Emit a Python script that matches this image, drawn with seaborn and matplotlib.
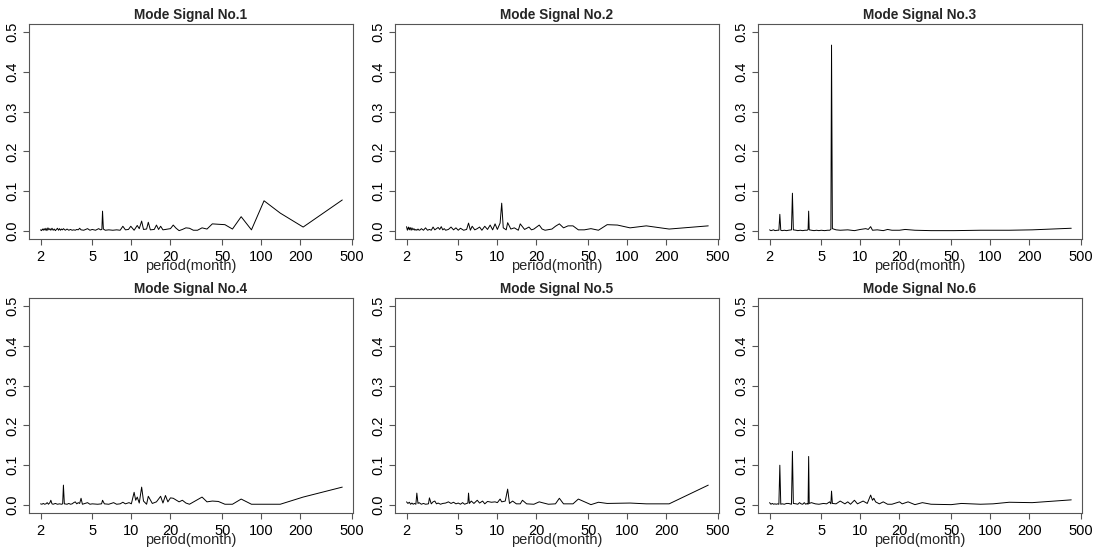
import matplotlib
matplotlib.use("Agg")
import matplotlib.pyplot as plt
import seaborn as sns

# periodogram values, one pair of lists per mode signal
period_1 = [2.0, 2.03, 2.07, 2.1, 2.13, 2.17, 2.2, 2.24, 2.28, 2.32, 2.36, 2.4, 2.45, 2.5, 2.55, 2.6,
            2.65, 2.7, 2.75, 2.8, 2.85, 2.9, 2.95, 3.0, 3.1, 3.2, 3.3, 3.4, 3.5, 3.6, 3.7, 3.8, 3.9,
            4.0, 4.1, 4.3, 4.6, 4.8, 5.0, 5.3, 5.6, 5.8, 5.93, 6.0, 6.09, 6.3, 6.7, 7.2, 7.7, 8.2, 8.6,
            9.0, 9.5, 9.9, 10.5, 11.1, 11.5, 12.0, 12.4, 13.1, 13.5, 14.0, 15.0, 15.6, 16.2, 16.8,
            17.5, 18.3, 19.1, 20.0, 21.0, 22.1, 23.3, 24.7, 26.3, 28.0, 30.0, 32.3, 35.0, 38.2, 42.0,
            46.7, 52.5, 60.0, 70.0, 84.0, 105.0, 140.0, 210.0, 420.0]
value_1 = [0.003, 0.001, 0.005, 0.002, 0.006, 0.002, 0.007, 0.001, 0.008, 0.003, 0.006, 0.002, 0.007,
           0.002, 0.005, 0.001, 0.004, 0.007, 0.002, 0.006, 0.002, 0.005, 0.003, 0.006, 0.002, 0.005,
           0.002, 0.004, 0.002, 0.003, 0.002, 0.004, 0.003, 0.007, 0.003, 0.002, 0.006, 0.002, 0.004,
           0.002, 0.006, 0.003, 0.004, 0.050, 0.005, 0.002, 0.003, 0.002, 0.003, 0.002, 0.012, 0.003,
           0.004, 0.012, 0.002, 0.014, 0.006, 0.025, 0.004, 0.005, 0.022, 0.003, 0.004, 0.015, 0.004,
           0.012, 0.003, 0.004, 0.005, 0.006, 0.015, 0.007, 0.001, 0.004, 0.008, 0.007, 0.002, 0.002,
           0.008, 0.005, 0.018, 0.017, 0.016, 0.005, 0.036, 0.003, 0.076, 0.045, 0.010, 0.078]

period_2 = [2.0, 2.03, 2.07, 2.1, 2.13, 2.17, 2.2, 2.24, 2.28, 2.32, 2.36, 2.4, 2.45, 2.5, 2.55, 2.6,
            2.7, 2.8, 2.9, 3.0, 3.1, 3.2, 3.3, 3.4, 3.5, 3.6, 3.7, 3.8, 3.9, 4.0, 4.2, 4.4, 4.6, 4.8,
            5.0, 5.2, 5.5, 5.8, 6.0, 6.2, 6.4, 6.7, 7.0, 7.3, 7.6, 8.0, 8.4, 8.8, 9.2, 9.6, 10.0,
            10.5, 10.8, 11.1, 11.7, 12.0, 12.7, 13.5, 14.5, 15.0, 16.2, 17.5, 18.3, 19.1, 21.0, 22.1,
            23.3, 26.3, 28.0, 30.0, 32.3, 35.0, 38.2, 42.0, 46.7, 52.5, 60.0, 70.0, 84.0, 105.0,
            140.0, 210.0, 420.0]
value_2 = [0.011, 0.002, 0.010, 0.003, 0.009, 0.002, 0.008, 0.003, 0.006, 0.002, 0.004, 0.002, 0.005,
           0.002, 0.003, 0.006, 0.002, 0.008, 0.002, 0.004, 0.002, 0.010, 0.003, 0.006, 0.009, 0.004,
           0.011, 0.003, 0.006, 0.002, 0.004, 0.010, 0.003, 0.008, 0.002, 0.007, 0.002, 0.004, 0.020,
           0.002, 0.012, 0.003, 0.006, 0.010, 0.002, 0.012, 0.004, 0.015, 0.003, 0.018, 0.004, 0.020,
           0.070, 0.008, 0.003, 0.021, 0.005, 0.008, 0.002, 0.018, 0.004, 0.010, 0.003, 0.005, 0.015,
           0.005, 0.002, 0.005, 0.012, 0.018, 0.008, 0.013, 0.013, 0.003, 0.003, 0.006, 0.002, 0.016,
           0.015, 0.008, 0.013, 0.005, 0.013]

period_3 = [2.0, 2.05, 2.1, 2.15, 2.2, 2.3, 2.36, 2.40, 2.44, 2.5, 2.6, 2.7, 2.8, 2.95, 3.0, 3.05,
            3.2, 3.3, 3.45, 3.6, 3.75, 3.9, 3.96, 4.0, 4.04, 4.2, 4.4, 4.6, 4.8, 5.0, 5.3, 5.6, 5.8,
            5.93, 6.0, 6.09, 6.5, 7.0, 8.0, 9.0, 10.0, 11.0, 11.5, 12.0, 12.4, 13.5, 15.0, 16.2, 17.5,
            20.0, 22.1, 26.3, 35.0, 52.5, 84.0, 140.0, 210.0, 420.0]
value_3 = [0.003, 0.001, 0.002, 0.003, 0.001, 0.002, 0.002, 0.042, 0.002, 0.001, 0.002, 0.001, 0.002,
           0.003, 0.095, 0.003, 0.002, 0.001, 0.002, 0.001, 0.002, 0.002, 0.004, 0.050, 0.003, 0.002,
           0.001, 0.002, 0.001, 0.002, 0.001, 0.002, 0.002, 0.004, 0.467, 0.006, 0.003, 0.002, 0.003,
           0.001, 0.004, 0.006, 0.004, 0.011, 0.002, 0.003, 0.001, 0.004, 0.002, 0.002, 0.004, 0.002,
           0.001, 0.001, 0.002, 0.002, 0.003, 0.007]

period_4 = [2.0, 2.05, 2.1, 2.15, 2.2, 2.25, 2.3, 2.36, 2.4, 2.45, 2.5, 2.6, 2.7, 2.8, 2.9, 2.96, 3.0,
            3.05, 3.2, 3.3, 3.4, 3.5, 3.6, 3.7, 3.8, 3.9, 4.0, 4.1, 4.2, 4.4, 4.6, 4.8, 5.0, 5.5, 5.9,
            6.0, 6.2, 6.7, 7.3, 7.7, 8.2, 8.6, 9.0, 9.6, 10.0, 10.5, 10.8, 11.1, 11.5, 12.0, 12.4,
            13.1, 13.5, 14.5, 15.6, 16.8, 17.5, 18.3, 19.1, 20.0, 21.0, 23.3, 24.7, 26.3, 28.0, 35.0,
            38.2, 42.0, 46.7, 52.5, 60.0, 70.0, 84.0, 105.0, 140.0, 210.0, 420.0]
value_4 = [0.003, 0.002, 0.004, 0.002, 0.003, 0.006, 0.002, 0.006, 0.012, 0.003, 0.002, 0.004, 0.002,
           0.003, 0.002, 0.003, 0.050, 0.003, 0.002, 0.004, 0.002, 0.003, 0.006, 0.008, 0.003, 0.006,
           0.004, 0.017, 0.002, 0.004, 0.006, 0.002, 0.003, 0.002, 0.003, 0.012, 0.003, 0.002, 0.006,
           0.002, 0.003, 0.007, 0.003, 0.006, 0.003, 0.032, 0.012, 0.020, 0.005, 0.045, 0.010, 0.002,
           0.022, 0.004, 0.008, 0.022, 0.005, 0.024, 0.008, 0.018, 0.017, 0.008, 0.012, 0.005, 0.002,
           0.020, 0.008, 0.010, 0.009, 0.002, 0.002, 0.015, 0.002, 0.002, 0.002, 0.020, 0.045]

period_5 = [2.0, 2.05, 2.1, 2.15, 2.2, 2.25, 2.3, 2.36, 2.4, 2.45, 2.5, 2.6, 2.7, 2.8, 2.95, 3.0,
            3.1, 3.2, 3.3, 3.4, 3.5, 3.65, 3.8, 4.0, 4.2, 4.4, 4.6, 4.8, 5.0, 5.2, 5.4, 5.6, 5.8,
            5.93, 6.0, 6.09, 6.3, 6.6, 7.0, 7.3, 7.7, 8.0, 8.4, 9.0, 9.6, 10.0, 10.5, 10.8, 11.5,
            12.0, 12.4, 13.1, 14.0, 15.0, 15.6, 16.8, 19.1, 21.0, 22.1, 24.7, 28.0, 30.0, 32.3, 38.2,
            42.0, 52.5, 60.0, 70.0, 105.0, 140.0, 210.0, 420.0]
value_5 = [0.008, 0.004, 0.007, 0.002, 0.005, 0.002, 0.004, 0.002, 0.030, 0.004, 0.006, 0.002, 0.004,
           0.002, 0.003, 0.018, 0.003, 0.008, 0.010, 0.003, 0.005, 0.002, 0.004, 0.005, 0.008, 0.004,
           0.007, 0.003, 0.005, 0.002, 0.006, 0.002, 0.004, 0.005, 0.030, 0.004, 0.010, 0.004, 0.012,
           0.005, 0.010, 0.003, 0.009, 0.007, 0.008, 0.006, 0.015, 0.008, 0.010, 0.040, 0.004, 0.010,
           0.003, 0.003, 0.012, 0.003, 0.002, 0.008, 0.006, 0.002, 0.003, 0.017, 0.003, 0.003, 0.015,
           0.001, 0.007, 0.004, 0.005, 0.003, 0.003, 0.050]

period_6 = [2.0, 2.05, 2.1, 2.15, 2.2, 2.25, 2.3, 2.36, 2.4, 2.44, 2.5, 2.6, 2.7, 2.8, 2.95, 3.0,
            3.05, 3.2, 3.3, 3.4, 3.5, 3.6, 3.7, 3.8, 3.9, 3.96, 4.0, 4.04, 4.2, 4.5, 4.8, 5.2, 5.5,
            5.8, 5.93, 6.0, 6.09, 6.5, 7.0, 7.6, 8.0, 8.4, 9.0, 9.5, 10.5, 11.3, 12.0, 12.4, 12.7,
            13.1, 14.0, 15.0, 16.2, 17.5, 20.0, 21.0, 23.3, 26.3, 30.0, 35.0, 50.0, 60.0, 84.0,
            105.0, 140.0, 210.0, 420.0]
value_6 = [0.006, 0.002, 0.004, 0.002, 0.003, 0.002, 0.003, 0.002, 0.100, 0.002, 0.003, 0.002, 0.004,
           0.004, 0.002, 0.135, 0.004, 0.003, 0.002, 0.006, 0.003, 0.002, 0.006, 0.002, 0.004, 0.002,
           0.122, 0.004, 0.006, 0.003, 0.002, 0.004, 0.003, 0.008, 0.003, 0.035, 0.004, 0.003, 0.010,
           0.003, 0.008, 0.002, 0.012, 0.003, 0.010, 0.004, 0.025, 0.012, 0.017, 0.008, 0.003, 0.008,
           0.002, 0.002, 0.008, 0.003, 0.008, 0.001, 0.006, 0.002, 0.001, 0.004, 0.002, 0.003, 0.007,
           0.006, 0.013]

periods = [period_1, period_2, period_3, period_4, period_5, period_6]
values = [value_1, value_2, value_3, value_4, value_5, value_6]
titles = [f"Mode Signal No.{i}" for i in range(1, 7)]
xticks = [2, 5, 10, 20, 50, 100, 200, 500]
yticks = [0.0, 0.1, 0.2, 0.3, 0.4, 0.5]

sns.set_theme(style="ticks")
plt.rcParams["font.family"] = ["Liberation Sans", "DejaVu Sans"]

fig = plt.figure(figsize=(11.05, 5.5), dpi=100)

lefts = [29, 395, 758]
tops = [24, 298]
W, H = 1105, 550
box_w, box_h = 324, 215

frame_col = "#555555"
for i in range(6):
    r, c = divmod(i, 3)
    left, top = lefts[c], tops[r]
    ax = fig.add_axes([left / W, 1 - (top + box_h) / H, box_w / W, box_h / H])
    sns.lineplot(x=periods[i], y=values[i], ax=ax, color="black", linewidth=0.7,
                 estimator=None, sort=False)
    ax.set_xscale("log")
    ax.set_xlim(1.63, 508)
    ax.set_ylim(-0.02, 0.52)
    ax.set_xticks(xticks)
    ax.set_xticklabels([str(t) for t in xticks])
    ax.minorticks_off()
    ax.set_yticks(yticks)
    ax.set_yticklabels([f"{t:.1f}" for t in yticks], rotation=90, va="center")
    ax.tick_params(axis="both", direction="out", length=4, width=0.8, color=frame_col,
                   labelsize=10.5, labelcolor="black", pad=3)
    ax.tick_params(axis="x", pad=4)
    for s in ax.spines.values():
        s.set_visible(True)
        s.set_color(frame_col)
        s.set_linewidth(0.8)
    ax.set_xlabel("")
    ax.set_ylabel("")
    ax.set_title(titles[i], fontsize=9.8, fontweight="bold", pad=3.5)
    # R draws the axis title close under the tick labels, partly over them
    ax.annotate("period(month)", xy=(0.5, 0), xycoords="axes fraction",
                xytext=(0, -19.5), textcoords="offset points",
                ha="center", va="center", fontsize=10.5)

fig.savefig("out.png", dpi=100)
